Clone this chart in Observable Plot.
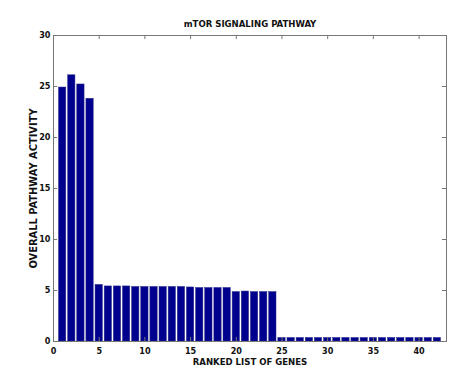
<!DOCTYPE html>
<html><head><meta charset="utf-8">
<script src="https://cdn.jsdelivr.net/npm/d3@7"></script>
<script src="https://cdn.jsdelivr.net/npm/@observablehq/plot@0.6"></script>
<style>
body{margin:0;background:#fff;}
svg{font-family:"Liberation Sans Narrow","DejaVu Sans Condensed",Arial,sans-serif;font-weight:bold;}
</style></head><body>
<div id="chart"></div>
<script>
const title = "mTOR SIGNALING PATHWAY";
const xLabel = "RANKED LIST OF GENES";
const yLabel = "OVERALL PATHWAY ACTIVITY";
const ranks = d3.range(1, 43);
const activity = [24.9, 26.1, 25.2, 23.8, 5.55, 5.4, 5.4, 5.4, 5.35, 5.35, 5.35, 5.35, 5.35, 5.35, 5.3, 5.25, 5.25, 5.25, 5.25,
  4.85, 4.9, 4.85, 4.85, 4.85,
  0.35, 0.35, 0.35, 0.35, 0.35, 0.35, 0.35, 0.35, 0.35, 0.35, 0.35, 0.35, 0.35, 0.35, 0.35, 0.35, 0.35, 0.35];
const xTicks = [0, 5, 10, 15, 20, 25, 30, 35, 40];
const yTicks = [0, 5, 10, 15, 20, 25, 30];

const data = ranks.map((r, i) => ({rank: r, value: activity[i]}));

const chart = Plot.plot({
  width: 461, height: 375,
  marginLeft: 53, marginRight: 15, marginTop: 35, marginBottom: 34,
  style: {fontSize: "9px", fontWeight: "bold", background: "#fff"},
  x: {domain: [0, 43]},
  y: {domain: [0, 30]},
  marks: [
    Plot.rectY(data, {x1: d => d.rank - 0.4, x2: d => d.rank + 0.4, y: "value", fill: "#00008e", stroke: "#30308a", strokeWidth: 0.5}),
    Plot.frame({stroke: "#777"}),
    Plot.ruleY(yTicks, {x1: 0, x2: 0.45, stroke: "#777"}),
    Plot.ruleY(yTicks, {x1: 42.55, x2: 43, stroke: "#777"}),
    Plot.ruleX(xTicks, {y1: 0, y2: 0.4, stroke: "#777"}),
    Plot.ruleX(xTicks, {y1: 29.6, y2: 30, stroke: "#777"}),
    Plot.axisX(xTicks, {tickSize: 0, tickPadding: 6, label: null, fill: "#111"}),
    Plot.axisY(yTicks, {tickSize: 0, tickPadding: 3, label: null, fill: "#111"}),
    Plot.text([xLabel], {frameAnchor: "bottom", dy: 23, fontSize: 9.5, fill: "#111"}),
    Plot.text([yLabel], {frameAnchor: "left", textAnchor: "middle", dx: -20, rotate: -90, fontSize: 11, fill: "#111"}),
    Plot.text([title], {frameAnchor: "top", dy: -15, fontSize: 9.5, fill: "#111"})
  ]
});
document.getElementById("chart").appendChild(chart);
</script>
</body></html>
